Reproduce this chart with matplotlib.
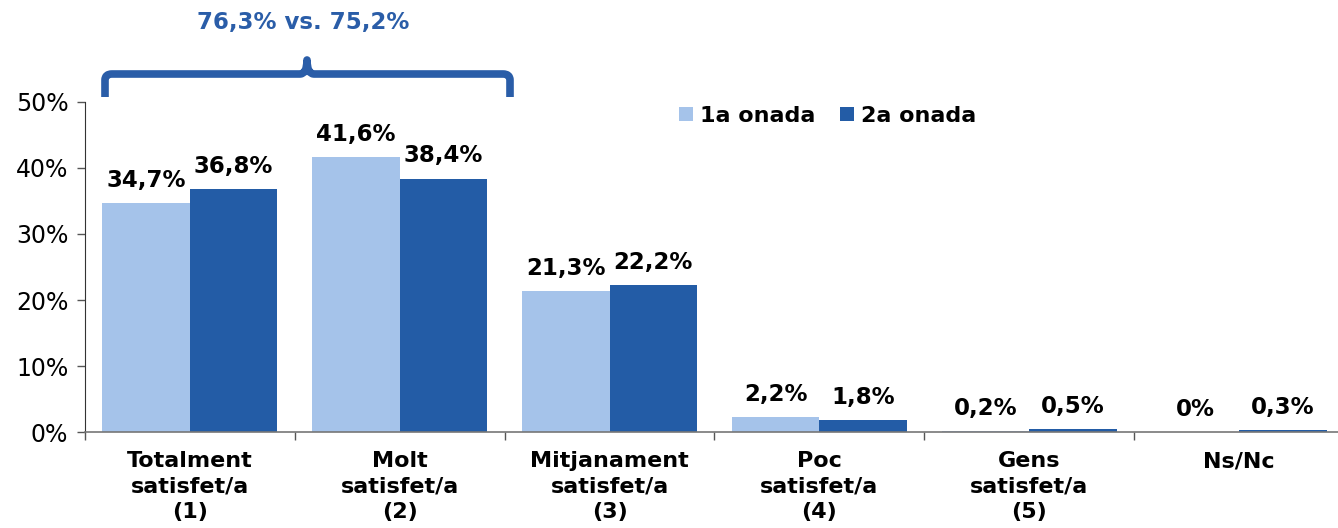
import matplotlib
matplotlib.use("Agg")
import matplotlib.pyplot as plt
import numpy as np
from matplotlib.path import Path
from matplotlib.patches import PathPatch

categories = ["Totalment\nsatisfet/a\n(1)", "Molt\nsatisfet/a\n(2)", "Mitjanament\nsatisfet/a\n(3)",
              "Poc\nsatisfet/a\n(4)", "Gens\nsatisfet/a\n(5)", "Ns/Nc"]
series_names = ["1a onada", "2a onada"]
wave1 = [34.7, 41.6, 21.3, 2.2, 0.2, 0.0]
wave2 = [36.8, 38.4, 22.2, 1.8, 0.5, 0.3]
yticks = [0, 10, 20, 30, 40, 50]
brace_text = "76,3% vs. 75,2%"

LIGHT = "#A5C3EA"
DARK = "#235CA6"
BRACE = "#2A5DA8"

W, H = 1338, 528
fig = plt.figure(figsize=(W / 100, H / 100), dpi=100)
ax = fig.add_axes([85 / W, 96 / H, (1344 - 85) / W, 330 / H])

x = np.arange(len(categories))
bw = 0.4167
b1 = ax.bar(x - bw / 2, wave1, bw, color=LIGHT, label=series_names[0])
b2 = ax.bar(x + bw / 2, wave2, bw, color=DARK, label=series_names[1])

def fmt(v):
    return "0%" if v == 0 else f"{v:.1f}".replace(".", ",") + "%"

for bars, vals in ((b1, wave1), (b2, wave2)):
    for r, v in zip(bars, vals):
        ax.annotate(fmt(v), (r.get_x() + r.get_width() / 2, r.get_height()),
                    xytext=(0, 8), textcoords="offset points", ha="center", va="bottom",
                    fontsize=16.5, fontweight="bold", color="black")

ax.set_xlim(-0.5, len(categories) - 0.5)
ax.set_ylim(0, 50)
ax.set_yticks(yticks)
ax.set_yticklabels([f"{t}%" for t in yticks], fontsize=17)
ax.set_xticks(x)
ax.set_xticklabels(categories, fontsize=16, fontweight="bold", linespacing=1.33)
ax.set_xticks(np.arange(-0.5, len(categories), 1.0), minor=True)
ax.tick_params(axis="x", which="major", length=0, pad=14)
ax.tick_params(axis="x", which="minor", length=6, width=1, color="#555555", direction="out")
ax.tick_params(axis="y", length=6, width=1, color="#555555", direction="out", pad=6)
for s in ("top", "right"):
    ax.spines[s].set_visible(False)
ax.spines["left"].set_color("#333333")
ax.spines["bottom"].set_color("#777777")
ax.spines["bottom"].set_linewidth(1.2)

ax.legend(loc="center left", bbox_to_anchor=(0.472, 0.958), ncol=2, frameon=False,
          prop={"size": 16, "weight": "bold"}, handlelength=0.6, handleheight=0.6,
          handletextpad=0.35, columnspacing=1.1, borderpad=0, borderaxespad=0)

# brace (figure pixel coordinates, y from top)
def P(px, py):
    return (px / W, 1 - py / H)

verts = [P(105, 97), P(105, 80), P(105, 74), P(112, 74), P(300, 74), P(307, 74), P(307, 60),
         P(307, 74), P(314, 74), P(503, 74), P(510, 74), P(510, 80), P(510, 97)]
codes = [Path.MOVETO, Path.LINETO, Path.CURVE3, Path.CURVE3, Path.LINETO, Path.CURVE3, Path.CURVE3,
         Path.CURVE3, Path.CURVE3, Path.LINETO, Path.CURVE3, Path.CURVE3, Path.LINETO]
patch = PathPatch(Path(verts, codes), transform=fig.transFigure, facecolor="none",
                  edgecolor=BRACE, linewidth=5.5, capstyle="butt", joinstyle="round")
fig.patches.append(patch)
fig.text(303 / W, 1 - 22 / H, brace_text, ha="center", va="center", fontsize=16.5,
         fontweight="bold", color=BRACE)

fig.savefig("out.png", dpi=100)
